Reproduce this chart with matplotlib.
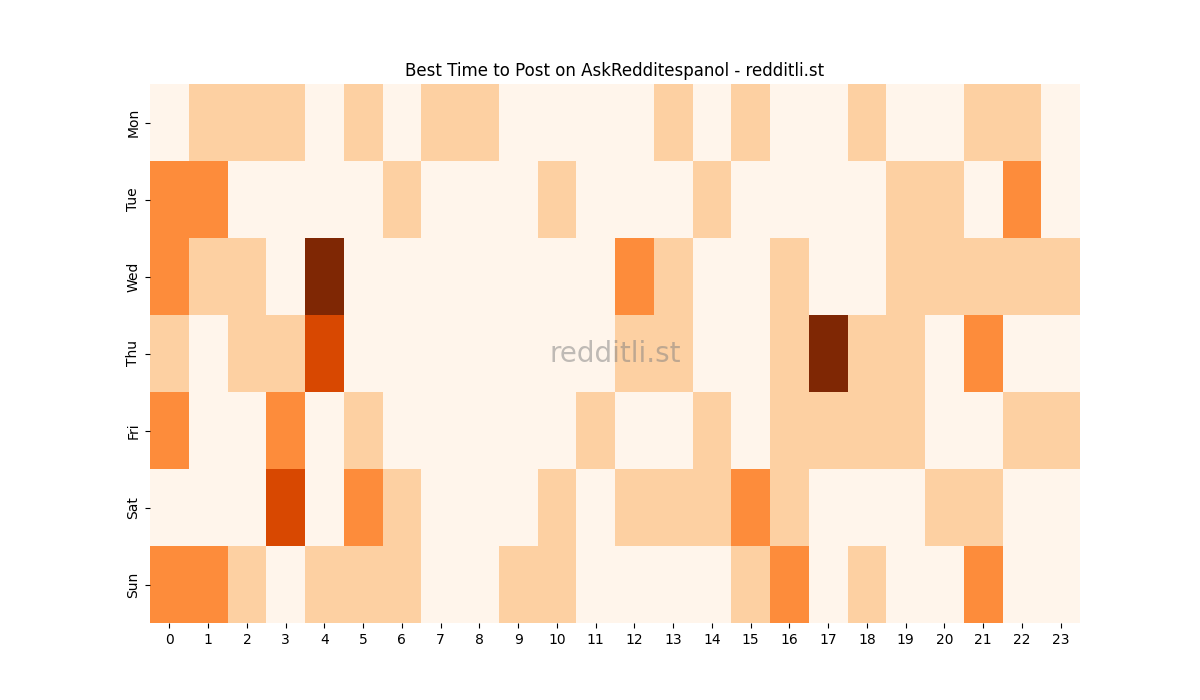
import matplotlib
matplotlib.use("Agg")
import matplotlib.pyplot as plt
import numpy as np

days = ["Mon", "Tue", "Wed", "Thu", "Fri", "Sat", "Sun"]
hours = list(range(24))
mon = [0,1,1,1,0,1,0,1,1,0,0,0,0,1,0,1,0,0,1,0,0,1,1,0]
tue = [2,2,0,0,0,0,1,0,0,0,1,0,0,0,1,0,0,0,0,1,1,0,2,0]
wed = [2,1,1,0,4,0,0,0,0,0,0,0,2,1,0,0,1,0,0,1,1,1,1,1]
thu = [1,0,1,1,3,0,0,0,0,0,0,0,1,1,0,0,1,4,1,1,0,2,0,0]
fri = [2,0,0,2,0,1,0,0,0,0,0,1,0,0,1,0,1,1,1,1,0,0,1,1]
sat = [0,0,0,3,0,2,1,0,0,0,1,0,1,1,1,2,1,0,0,0,1,1,0,0]
sun = [2,2,1,0,1,1,1,0,0,1,1,0,0,0,0,1,2,0,1,0,0,2,0,0]

data = np.array([mon, tue, wed, thu, fri, sat, sun])

fig, ax = plt.subplots(figsize=(12, 7), dpi=100)
ax.pcolormesh(data, cmap="Oranges", vmin=0, vmax=4)
ax.set_ylim(len(days), 0)
ax.set_xticks(np.arange(len(hours)) + 0.5)
ax.set_xticklabels([str(h) for h in hours])
ax.set_yticks(np.arange(len(days)) + 0.5)
ax.set_yticklabels(days, rotation=90, va="center")
for s in ax.spines.values():
    s.set_visible(False)
ax.set_title("Best Time to Post on AskRedditespanol - redditli.st")
ax.text(0.5, 0.5, "redditli.st", transform=ax.transAxes, ha="center", va="center",
        fontsize=20, color="gray", alpha=0.5)
fig.savefig("out.png")
